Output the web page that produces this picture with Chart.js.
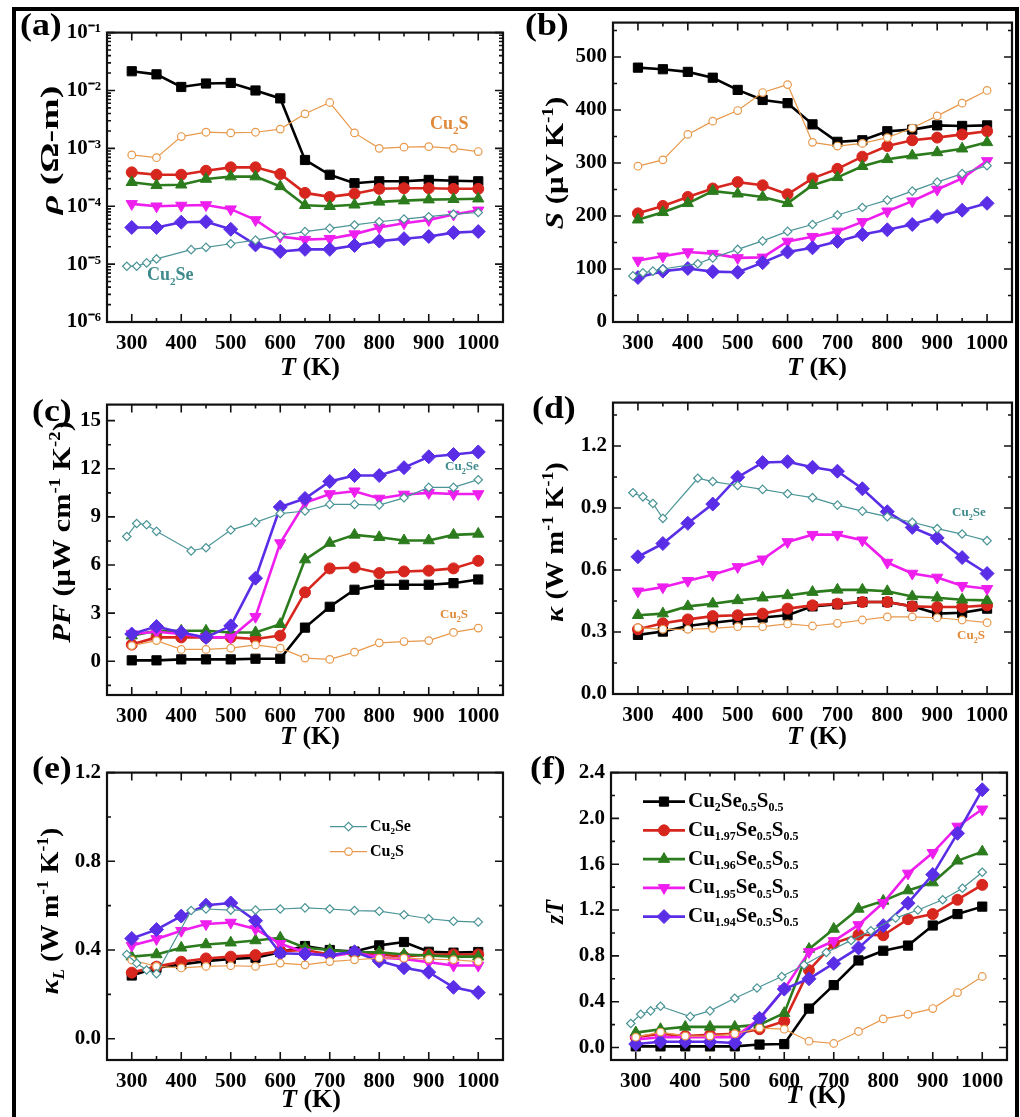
<!DOCTYPE html>
<html lang="en">
<head>
<meta charset="UTF-8">
<title>Cu2-xSe0.5S0.5 thermoelectric properties</title>
<script src="https://cdn.jsdelivr.net/npm/chart.js"></script>
<style>
  html, body { margin: 0; padding: 0; background: #fff; overflow: hidden; }
  body { width: 1020px; height: 1117px; position: relative; font-family: 'Liberation Serif', 'Times New Roman', serif; color: #000; }
  #frame { position: absolute; left: 12px; top: 7px; width: 1007px; height: 1140px; border: 4px solid #000; box-sizing: border-box; pointer-events: none; }
  canvas { position: absolute; }
  .lbl { position: absolute; font-weight: bold; font-size: 32px; line-height: 1; transform-origin: 0 0; transform: scaleX(1.12); }
  .xt { position: absolute; font-weight: bold; font-size: 26px; line-height: 1; white-space: nowrap; transform: translate(-50%, -50%); }
  .yt { position: absolute; font-weight: bold; font-size: 26px; line-height: 1; white-space: nowrap; transform: translate(-50%, -50%) rotate(-90deg); }
  .note { position: absolute; font-weight: bold; line-height: 1; white-space: nowrap; }
  sub, sup { font-size: 62%; line-height: 0; }
  .se { color: #3f8a8c; }
  .s { color: #e08a3c; }
</style>
</head>
<body>
<div id="frame"></div>

<div class="lbl" style="left:20px;top:8px">(a)</div>
<div class="lbl" style="left:525px;top:8px">(b)</div>
<div class="lbl" style="left:32px;top:394px">(c)</div>
<div class="lbl" style="left:532px;top:391px">(d)</div>
<div class="lbl" style="left:32px;top:751px">(e)</div>
<div class="lbl" style="left:530px;top:751px">(f)</div>

<div class="yt" data-len="128" style="left:50px;top:150px"><i>ρ</i> (Ω-m)</div>
<div class="yt" data-len="133" style="left:555px;top:163px"><i>S</i> (μV K<sup>-1</sup>)</div>
<div class="yt" data-len="222" style="left:62px;top:532px"><i>PF</i> (μW cm<sup>-1</sup> K<sup>-2</sup>)</div>
<div class="yt" data-len="160" style="left:555px;top:542px"><i>κ</i> (W m<sup>-1</sup> K<sup>-1</sup>)</div>
<div class="yt" data-len="167" style="left:50px;top:911px"><i>κ<sub>L</sub></i> (W m<sup>-1</sup> K<sup>-1</sup>)</div>
<div class="yt" data-len="24" style="left:555px;top:912px"><i>zT</i></div>

<div class="xt" style="left:310px;top:367px"><i>T</i> (K)</div>
<div class="xt" style="left:817px;top:367px"><i>T</i> (K)</div>
<div class="xt" style="left:310px;top:736px"><i>T</i> (K)</div>
<div class="xt" style="left:817px;top:736px"><i>T</i> (K)</div>
<div class="xt" style="left:311px;top:1099px"><i>T</i> (K)</div>
<div class="xt" style="left:816px;top:1095px"><i>T</i> (K)</div>

<div class="note s" style="left:430px;top:114px;font-size:18px">Cu<sub>2</sub>S</div>
<div class="note se" style="left:147px;top:265px;font-size:18px">Cu<sub>2</sub>Se</div>
<div class="note se" style="left:445px;top:459px;font-size:13px">Cu<sub>2</sub>Se</div>
<div class="note s" style="left:440px;top:607px;font-size:13px">Cu<sub>2</sub>S</div>
<div class="note se" style="left:952px;top:505px;font-size:13px">Cu<sub>2</sub>Se</div>
<div class="note s" style="left:957px;top:628px;font-size:13px">Cu<sub>2</sub>S</div>

<script>
// temperatures (K)
const T_MAIN = [300, 350, 400, 450, 500, 550, 600, 650, 700, 750, 800, 850, 900, 950, 1000];
const T_CU2S = [300, 350, 400, 450, 500, 550, 600, 650, 700, 750, 800, 850, 900, 950, 1000];
const T_CU2SE = [290, 310, 330, 350, 420, 450, 500, 550, 600, 650, 700, 750, 800, 850, 900, 950, 1000];
const T_CU2SE_ZT = [290, 310, 330, 350, 410, 450, 500, 545, 595, 640, 685, 735, 775, 825, 870, 920, 960, 1000];
const X_TICKS = [300, 400, 500, 600, 700, 800, 900, 1000];
const X_TICK_LABELS = ['300', '400', '500', '600', '700', '800', '900', '1000'];
const X_MINOR = [350, 450, 550, 650, 750, 850, 950];

// (a) resistivity, ohm m
const RHO_X0 = [2.15e-2, 1.9e-2, 1.15e-2, 1.32e-2, 1.35e-2, 1.0e-2, 7.3e-3, 6.3e-4, 3.5e-4, 2.5e-4, 2.7e-4, 2.7e-4, 2.85e-4, 2.75e-4, 2.7e-4];
const RHO_X97 = [3.85e-4, 3.5e-4, 3.5e-4, 4.1e-4, 4.7e-4, 4.7e-4, 3.6e-4, 1.7e-4, 1.45e-4, 1.65e-4, 2.0e-4, 2.05e-4, 2.05e-4, 2.0e-4, 2.0e-4];
const RHO_X96 = [2.6e-4, 2.3e-4, 2.35e-4, 2.95e-4, 3.25e-4, 3.25e-4, 2.2e-4, 1.04e-4, 1.0e-4, 1.06e-4, 1.19e-4, 1.25e-4, 1.3e-4, 1.32e-4, 1.35e-4];
const RHO_X95 = [1.1e-4, 1.0e-4, 1.03e-4, 1.05e-4, 8.9e-5, 5.8e-5, 3.0e-5, 2.65e-5, 2.75e-5, 3.3e-5, 4.3e-5, 5.1e-5, 5.8e-5, 7.2e-5, 8.5e-5];
const RHO_X94 = [4.3e-5, 4.3e-5, 5.3e-5, 5.4e-5, 4.0e-5, 2.15e-5, 1.65e-5, 1.8e-5, 1.8e-5, 2.1e-5, 2.5e-5, 2.75e-5, 3.0e-5, 3.5e-5, 3.65e-5];
const RHO_CU2SE = [9.2e-6, 9.2e-6, 1.05e-5, 1.23e-5, 1.78e-5, 1.95e-5, 2.25e-5, 2.6e-5, 3.1e-5, 3.65e-5, 4.15e-5, 4.75e-5, 5.4e-5, 6.0e-5, 6.6e-5, 7.3e-5, 7.8e-5];
const RHO_CU2S = [7.7e-4, 6.9e-4, 1.6e-3, 1.9e-3, 1.85e-3, 1.9e-3, 2.15e-3, 3.95e-3, 6.2e-3, 1.85e-3, 1.0e-3, 1.05e-3, 1.07e-3, 1.0e-3, 8.8e-4];
const RHO_TICKS = [1e-6, 1e-5, 1e-4, 1e-3, 1e-2, 1e-1];
const RHO_TICK_LABELS = ['10⁻⁶', '10⁻⁵', '10⁻⁴', '10⁻³', '10⁻²', '10⁻¹'];

// (b) Seebeck, uV/K
const S_X0 = [480, 477, 472, 461, 438, 419, 413, 373, 340, 343, 360, 363, 371, 370, 371];
const S_X97 = [205, 219, 236, 252, 264, 258, 241, 271, 289, 312, 332, 343, 348, 354, 360];
const S_X96 = [193, 207, 224, 247, 242, 236, 224, 258, 273, 294, 307, 314, 320, 327, 339];
const S_X95 = [116, 124, 132, 129, 121, 122, 152, 161, 171, 189, 209, 228, 250, 271, 304];
const S_X94 = [84, 96, 101, 95, 94, 112, 132, 140, 152, 165, 174, 184, 199, 211, 224];
const S_CU2SE = [87, 93, 96, 100, 110, 121, 137, 153, 171, 184, 202, 216, 230, 247, 264, 280, 295];
const S_CU2S = [294, 306, 354, 379, 399, 433, 448, 339, 332, 337, 348, 366, 389, 413, 437];
const S_TICKS = [0, 100, 200, 300, 400, 500];
const S_TICK_LABELS = ['0', '100', '200', '300', '400', '500'];
const S_MINOR = [50, 150, 250, 350, 450, 550];

// (c) power factor, uW cm-1 K-2
const PF_X0 = [0.06, 0.06, 0.12, 0.12, 0.12, 0.16, 0.16, 2.1, 3.4, 4.46, 4.77, 4.77, 4.77, 4.87, 5.1];
const PF_X97 = [1.04, 1.49, 1.49, 1.49, 1.49, 1.39, 1.6, 4.3, 5.79, 5.85, 5.5, 5.6, 5.65, 5.79, 6.26];
const PF_X96 = [1.6, 1.9, 1.9, 1.9, 1.8, 1.8, 2.31, 6.34, 7.37, 7.88, 7.73, 7.53, 7.53, 7.88, 7.94];
const PF_X95 = [1.7, 1.84, 1.7, 1.49, 1.49, 2.78, 7.37, 9.88, 10.43, 10.6, 10.15, 10.4, 10.5, 10.43, 10.43];
const PF_X94 = [1.7, 2.17, 1.8, 1.49, 2.21, 5.18, 9.62, 10.15, 11.21, 11.58, 11.58, 12.07, 12.75, 12.89, 13.05];
const PF_CU2SE = [7.78, 8.59, 8.51, 8.1, 6.88, 7.08, 8.18, 8.66, 9.21, 9.37, 9.78, 9.78, 9.74, 10.19, 10.84, 10.84, 11.32];
const PF_CU2S = [0.98, 1.29, 0.74, 0.74, 0.82, 1.02, 0.82, 0.2, 0.12, 0.57, 1.15, 1.23, 1.29, 1.8, 2.07];
const PF_TICKS = [0, 3, 6, 9, 12, 15];
const PF_TICK_LABELS = ['0', '3', '6', '9', '12', '15'];
const PF_MINOR = [-1.5, 1.5, 4.5, 7.5, 10.5, 13.5];

// (d) total thermal conductivity, W m-1 K-1
const K_X0 = [0.286, 0.302, 0.329, 0.345, 0.358, 0.37, 0.381, 0.424, 0.434, 0.445, 0.445, 0.424, 0.389, 0.393, 0.413];
const K_X97 = [0.313, 0.342, 0.361, 0.377, 0.381, 0.389, 0.413, 0.429, 0.437, 0.445, 0.445, 0.424, 0.421, 0.421, 0.429];
const K_X96 = [0.381, 0.389, 0.424, 0.437, 0.453, 0.466, 0.477, 0.493, 0.504, 0.504, 0.497, 0.472, 0.466, 0.456, 0.453];
const K_X95 = [0.497, 0.517, 0.548, 0.577, 0.615, 0.652, 0.736, 0.771, 0.771, 0.744, 0.636, 0.583, 0.564, 0.524, 0.509];
const K_X94 = [0.664, 0.728, 0.826, 0.919, 1.049, 1.12, 1.124, 1.097, 1.078, 0.993, 0.882, 0.806, 0.755, 0.66, 0.583];
const K_CU2SE = [0.974, 0.954, 0.922, 0.85, 1.044, 1.028, 1.009, 0.99, 0.969, 0.95, 0.914, 0.885, 0.858, 0.831, 0.8, 0.774, 0.742];
const K_CU2S = [0.321, 0.313, 0.313, 0.318, 0.326, 0.326, 0.339, 0.329, 0.342, 0.358, 0.373, 0.373, 0.369, 0.358, 0.345];
const K_TICKS = [0, 0.3, 0.6, 0.9, 1.2];
const K_TICK_LABELS = ['0.0', '0.3', '0.6', '0.9', '1.2'];
const K_MINOR = [0.15, 0.45, 0.75, 1.05, 1.35];

// (e) lattice thermal conductivity
const KL_X0 = [0.285, 0.32, 0.335, 0.35, 0.36, 0.365, 0.39, 0.418, 0.4, 0.393, 0.421, 0.436, 0.392, 0.388, 0.391];
const KL_X97 = [0.298, 0.325, 0.347, 0.362, 0.37, 0.377, 0.395, 0.4, 0.38, 0.385, 0.38, 0.37, 0.38, 0.38, 0.38];
const KL_X96 = [0.37, 0.38, 0.41, 0.425, 0.433, 0.443, 0.455, 0.41, 0.4, 0.39, 0.39, 0.38, 0.375, 0.37, 0.37];
const KL_X95 = [0.42, 0.45, 0.487, 0.517, 0.524, 0.495, 0.428, 0.39, 0.37, 0.39, 0.365, 0.36, 0.345, 0.33, 0.33];
const KL_X94 = [0.452, 0.492, 0.553, 0.602, 0.612, 0.532, 0.385, 0.382, 0.377, 0.392, 0.35, 0.32, 0.3, 0.232, 0.208];
const KL_CU2SE = [0.38, 0.34, 0.31, 0.293, 0.578, 0.585, 0.58, 0.58, 0.585, 0.59, 0.585, 0.578, 0.575, 0.559, 0.541, 0.53, 0.526];
const KL_CU2S = [0.355, 0.326, 0.319, 0.326, 0.329, 0.326, 0.341, 0.333, 0.348, 0.356, 0.363, 0.363, 0.359, 0.356, 0.348];
const KL_TICKS = [0, 0.4, 0.8, 1.2];
const KL_TICK_LABELS = ['0.0', '0.4', '0.8', '1.2'];
const KL_MINOR = [0.2, 0.6, 1.0];

// (f) figure of merit
const ZT_X0 = [0.01, 0.01, 0.01, 0.01, 0.01, 0.026, 0.03, 0.34, 0.545, 0.76, 0.845, 0.89, 1.065, 1.165, 1.23];
const ZT_X97 = [0.09, 0.12, 0.1, 0.11, 0.12, 0.16, 0.23, 0.675, 0.91, 0.985, 0.98, 1.12, 1.165, 1.29, 1.42];
const ZT_X96 = [0.13, 0.16, 0.18, 0.18, 0.18, 0.2, 0.3, 0.86, 1.035, 1.21, 1.28, 1.37, 1.44, 1.63, 1.71];
const ZT_X95 = [0.07, 0.09, 0.09, 0.09, 0.09, 0.25, 0.51, 0.834, 0.93, 1.07, 1.264, 1.52, 1.7, 1.93, 2.08];
const ZT_X94 = [0.03, 0.05, 0.05, 0.05, 0.04, 0.255, 0.51, 0.6, 0.734, 0.869, 1.064, 1.26, 1.51, 1.87, 2.25];
const ZT_CU2SE = [0.21, 0.29, 0.32, 0.36, 0.27, 0.32, 0.43, 0.52, 0.62, 0.72, 0.83, 0.935, 1.02, 1.13, 1.2, 1.29, 1.39, 1.53];
const ZT_CU2S = [0.09, 0.135, 0.1, 0.1, 0.12, 0.17, 0.16, 0.055, 0.035, 0.14, 0.25, 0.29, 0.34, 0.48, 0.62];
const ZT_TICKS = [0, 0.4, 0.8, 1.2, 1.6, 2.0, 2.4];
const ZT_TICK_LABELS = ['0.0', '0.4', '0.8', '1.2', '1.6', '2.0', '2.4'];
const ZT_MINOR = [0.2, 0.6, 1.0, 1.4, 1.8, 2.2];

// legend texts: [text, isSubscript]
const LEGEND_MAIN = [
  [['Cu', 0], ['2', 1], ['Se', 0], ['0.5', 1], ['S', 0], ['0.5', 1]],
  [['Cu', 0], ['1.97', 1], ['Se', 0], ['0.5', 1], ['S', 0], ['0.5', 1]],
  [['Cu', 0], ['1.96', 1], ['Se', 0], ['0.5', 1], ['S', 0], ['0.5', 1]],
  [['Cu', 0], ['1.95', 1], ['Se', 0], ['0.5', 1], ['S', 0], ['0.5', 1]],
  [['Cu', 0], ['1.94', 1], ['Se', 0], ['0.5', 1], ['S', 0], ['0.5', 1]]
];
const LEGEND_REF = [
  [['Cu', 0], ['2', 1], ['Se', 0]],
  [['Cu', 0], ['2', 1], ['S', 0]]
];

const STYLE = {
  se:  { color: '#4b9496', pointStyle: 'rectRot', radius: 4.2, open: true },
  s:   { color: '#e8994c', pointStyle: 'circle', radius: 3.8, open: true },
  x94: { color: '#5a2ee6', pointStyle: 'rectRot', radius: 7 },
  x95: { color: '#ee1fee', pointStyle: 'triangle', radius: 6.5, rotation: 180 },
  x96: { color: '#2c7c1e', pointStyle: 'triangle', radius: 6.5 },
  x97: { color: '#d7261e', pointStyle: 'circle', radius: 5.5 },
  x0:  { color: '#000000', pointStyle: 'rect', radius: 6.5 }
};
const FONT = '"Liberation Serif", "Times New Roman", serif';

function series(key, xs, ys) {
  const s = STYLE[key];
  return {
    data: xs.map((x, i) => ({ x, y: ys[i] })),
    borderColor: s.color,
    backgroundColor: s.color,
    borderWidth: s.open ? 1.2 : 2.6,
    pointStyle: s.pointStyle,
    pointRadius: s.radius,
    pointHoverRadius: s.radius,
    pointRotation: s.rotation || 0,
    pointBackgroundColor: s.open ? '#ffffff' : s.color,
    pointBorderColor: s.color,
    pointBorderWidth: s.open ? 1.2 : 1,
    tension: 0,
    fill: false
  };
}

// first dataset is drawn on top
function panelSets(seX, d) {
  return [
    series('se', seX, d.se), series('s', T_CU2S, d.s),
    series('x94', T_MAIN, d.x94), series('x95', T_MAIN, d.x95),
    series('x96', T_MAIN, d.x96), series('x97', T_MAIN, d.x97),
    series('x0', T_MAIN, d.x0)
  ];
}

function logMinor() {
  const out = [];
  for (let e = -6; e <= -2; e++) for (let k = 2; k <= 9; k++) out.push(k * Math.pow(10, e));
  return out;
}

// inward major/minor ticks on all four sides plus the box
function frameTicks(yMaj, yMin) {
  return {
    id: 'frameTicks',
    afterDraw(chart) {
      const { ctx, chartArea: a, scales: { x, y } } = chart;
      ctx.save();
      ctx.strokeStyle = '#111';
      ctx.lineWidth = 1.6;
      ctx.beginPath();
      const xm = (vals, len) => vals.forEach(v => {
        const p = x.getPixelForValue(v);
        if (p < a.left - 0.5 || p > a.right + 0.5) return;
        ctx.moveTo(p, a.bottom); ctx.lineTo(p, a.bottom - len);
        ctx.moveTo(p, a.top); ctx.lineTo(p, a.top + len);
      });
      const ym = (vals, len) => vals.forEach(v => {
        const p = y.getPixelForValue(v);
        if (p < a.top - 0.5 || p > a.bottom + 0.5) return;
        ctx.moveTo(a.left, p); ctx.lineTo(a.left + len, p);
        ctx.moveTo(a.right, p); ctx.lineTo(a.right - len, p);
      });
      xm(X_TICKS, 8); xm(X_MINOR, 4);
      ym(yMaj, 8); ym(yMin, 4);
      ctx.stroke();
      ctx.lineWidth = 2.2;
      ctx.strokeRect(a.left, a.top, a.width, a.height);
      ctx.restore();
    }
  };
}

function fallbackPoint(ctx, o, x, y) {
  ctx.beginPath();
  ctx.arc(x, y, o.radius, 0, Math.PI * 2);
  ctx.fill();
  if (o.borderWidth > 0) ctx.stroke();
}

function subLegend(cfg) {
  return {
    id: 'subLegend',
    afterDraw(chart) {
      const { ctx, chartArea: a } = chart;
      const drawPoint = (Chart.helpers && Chart.helpers.drawPoint) || fallbackPoint;
      ctx.save();
      cfg.rows.forEach((parts, i) => {
        const ds = chart.data.datasets[cfg.sets[i]];
        const y = a.top + cfg.y + i * cfg.dy;
        const x0 = a.left + cfg.x, x1 = x0 + cfg.len;
        ctx.strokeStyle = ds.borderColor;
        ctx.lineWidth = ds.borderWidth;
        ctx.beginPath(); ctx.moveTo(x0, y); ctx.lineTo(x1, y); ctx.stroke();
        ctx.fillStyle = ds.pointBackgroundColor;
        ctx.lineWidth = ds.pointBorderWidth;
        drawPoint(ctx, { pointStyle: ds.pointStyle, radius: ds.pointRadius, rotation: ds.pointRotation, borderWidth: ds.pointBorderWidth }, (x0 + x1) / 2, y);
        let tx = x1 + 3;
        ctx.fillStyle = '#000';
        ctx.textBaseline = 'middle';
        parts.forEach(([t, sub]) => {
          const size = sub ? Math.round(cfg.size * 0.58) : cfg.size;
          ctx.font = 'bold ' + size + 'px ' + FONT;
          ctx.fillText(t, tx, y + (sub ? cfg.size * 0.32 : 0));
          tx += ctx.measureText(t).width;
        });
      });
      ctx.restore();
    }
  };
}

const PANELS = [
  { area: [107, 28, 503, 322], type: 'logarithmic', min: 1e-6, max: 1e-1,
    ticks: RHO_TICKS, labels: RHO_TICK_LABELS, minor: logMinor(),
    sets: panelSets(T_CU2SE, { se: RHO_CU2SE, s: RHO_CU2S, x94: RHO_X94, x95: RHO_X95, x96: RHO_X96, x97: RHO_X97, x0: RHO_X0 }) },
  { area: [613, 18, 1012, 322], type: 'linear', min: 0, max: 565,
    ticks: S_TICKS, labels: S_TICK_LABELS, minor: S_MINOR,
    sets: panelSets(T_CU2SE, { se: S_CU2SE, s: S_CU2S, x94: S_X94, x95: S_X95, x96: S_X96, x97: S_X97, x0: S_X0 }) },
  { area: [107, 400, 503, 695], type: 'linear', min: -2.1, max: 16,
    ticks: PF_TICKS, labels: PF_TICK_LABELS, minor: PF_MINOR,
    sets: panelSets(T_CU2SE, { se: PF_CU2SE, s: PF_CU2S, x94: PF_X94, x95: PF_X95, x96: PF_X96, x97: PF_X97, x0: PF_X0 }) },
  { area: [613, 398, 1012, 694], type: 'linear', min: 0, max: 1.41,
    ticks: K_TICKS, labels: K_TICK_LABELS, minor: K_MINOR,
    sets: panelSets(T_CU2SE, { se: K_CU2SE, s: K_CU2S, x94: K_X94, x95: K_X95, x96: K_X96, x97: K_X97, x0: K_X0 }) },
  { area: [107, 768, 503, 1060], type: 'linear', min: -0.096, max: 1.2,
    ticks: KL_TICKS, labels: KL_TICK_LABELS, minor: KL_MINOR,
    sets: panelSets(T_CU2SE, { se: KL_CU2SE, s: KL_CU2S, x94: KL_X94, x95: KL_X95, x96: KL_X96, x97: KL_X97, x0: KL_X0 }),
    legend: { rows: LEGEND_REF, sets: [0, 1], x: 223, y: 54, dy: 25, len: 37, size: 16 } },
  { area: [611, 768, 1007, 1060], type: 'linear', min: -0.109, max: 2.4,
    ticks: ZT_TICKS, labels: ZT_TICK_LABELS, minor: ZT_MINOR,
    sets: panelSets(T_CU2SE_ZT, { se: ZT_CU2SE, s: ZT_CU2S, x94: ZT_X94, x95: ZT_X95, x96: ZT_X96, x97: ZT_X97, x0: ZT_X0 }),
    legend: { rows: LEGEND_MAIN, sets: [6, 5, 4, 3, 2], x: 32, y: 29, dy: 28.75, len: 42, size: 21 } }
];

const PAD_L = 65, PAD_T = 14, PAD_R = 8, PAD_B = 40;
const tickFont = { family: FONT, size: 21, weight: 'bold' };

PANELS.forEach(p => {
  const [L, T, R, B] = p.area;
  const canvas = document.createElement('canvas');
  canvas.width = R - L + PAD_L + PAD_R;
  canvas.height = B - T + PAD_T + PAD_B;
  canvas.style.left = (L - PAD_L) + 'px';
  canvas.style.top = (T - PAD_T) + 'px';
  document.body.insertBefore(canvas, document.getElementById('frame'));

  const plugins = [frameTicks(p.ticks, p.minor)];
  if (p.legend) plugins.push(subLegend(p.legend));

  new Chart(canvas, {
    type: 'line',
    data: { datasets: p.sets },
    plugins,
    options: {
      responsive: false,
      animation: false,
      layout: { padding: { left: 0, top: PAD_T, right: PAD_R, bottom: 0 } },
      plugins: { legend: { display: false }, tooltip: { enabled: false } },
      scales: {
        x: {
          type: 'linear', min: 250, max: 1050,
          afterBuildTicks: s => { s.ticks = X_TICKS.map(v => ({ value: v })); },
          afterFit: s => { s.height = PAD_B; },
          grid: { display: false, drawTicks: false },
          border: { display: false },
          ticks: { font: tickFont, color: '#000', padding: 9, autoSkip: false, maxRotation: 0, callback: (v, i) => X_TICK_LABELS[i] }
        },
        y: {
          type: p.type, min: p.min, max: p.max,
          afterBuildTicks: s => { s.ticks = p.ticks.map(v => ({ value: v })); },
          afterFit: s => { s.width = PAD_L; },
          grid: { display: false, drawTicks: false },
          border: { display: false },
          ticks: { font: tickFont, color: '#000', padding: 6, autoSkip: false, callback: (v, i) => p.labels[i] }
        }
      }
    }
  });
});

// stretch rotated axis titles to the length they have in the figure
document.querySelectorAll('.yt').forEach(el => {
  const k = Number(el.dataset.len) / el.offsetWidth;
  el.style.transform = 'translate(-50%, -50%) rotate(-90deg) scaleX(' + k.toFixed(3) + ')';
});
</script>
</body>
</html>
